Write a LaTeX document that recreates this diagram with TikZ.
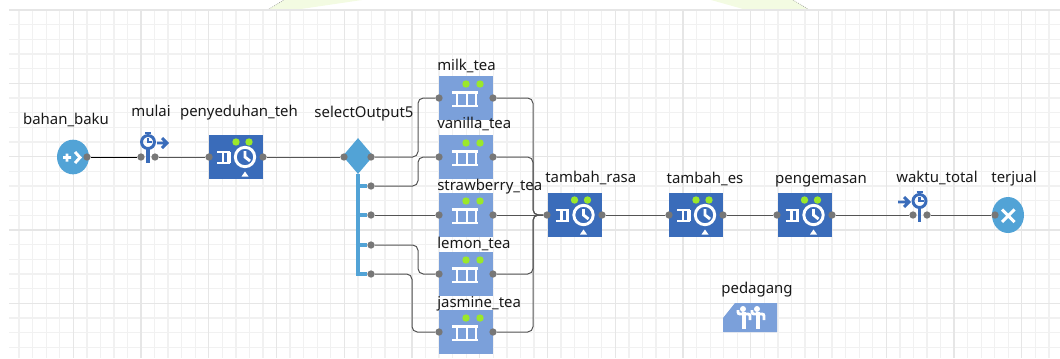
\documentclass[tikz,border=0pt]{standalone}
\usepackage{fontspec}
\usepackage{xcolor}
\usetikzlibrary{shapes.geometric}
\setmainfont{Noto Sans}
\definecolor{delayblue}{HTML}{3A6CBA}
\definecolor{queueblue}{HTML}{7BA0DA}
\definecolor{flowblue}{HTML}{52A3D6}
\definecolor{ledgreen}{HTML}{9BE82A}
\definecolor{portgray}{HTML}{777777}
\definecolor{wiregray}{HTML}{555555}
\definecolor{gridmajor}{HTML}{E6E6E6}
\definecolor{gridminor}{HTML}{F1F1F1}
\definecolor{tintgreen}{HTML}{F3FBE2}
\tikzset{x=0.75pt,y=-0.75pt,
 block/.style={inner sep=0pt,minimum width=40.5pt,minimum height=32.5pt},
 delaybox/.style={block,fill=delayblue},
 queuebox/.style={block,fill=queueblue},
 port/.style={circle,fill=portgray,inner sep=0pt,minimum size=5.5pt},
 name text/.style={inner sep=0pt,text=black!90,text height=8pt,text depth=2.5pt,font=\fontsize{11.2pt}{13pt}\selectfont},
 wire/.style={draw=wiregray,line width=0.75pt,rounded corners=4pt},
 bus/.style={draw=flowblue,line width=2.5pt},
 icon/.style={draw=white,line width=2.2pt},
 timer line/.style={draw=delayblue,line width=2.2pt},
 led/.style={fill=ledgreen,draw=none},
 delayicon/.pic={
 \fill[led] (0,-15) circle (3.7);
 \fill[led] (13,-15) circle (3.7);
 \draw[icon] (-19,-5) -- (-6,-5) (-19,6) -- (-6,6) (-13,-5) -- (-13,6);
 \draw[icon,line width=2.5pt] (-7,-5) -- (-7,6);
 \draw[icon] (9,0) circle (9.7);
 \draw[icon] (9,-6) -- (9,0) -- (14,4);
 \fill[white] (9,14.5) -- (12.5,19.5) -- (5.5,19.5) -- cycle;
 },
 queueicon/.pic={
 \fill[led] (0,-14) circle (3.7);
 \fill[led] (14,-14) circle (3.7);
 \draw[icon] (-14,-5.5) -- (12,-5.5) (-14,8) -- (12,8);
 \draw[icon] (-9,-5.5) -- (-9,8) (1,-5.5) -- (1,8) (10,-5.5) -- (10,8);
 },
 timericon/.pic={
 \draw[timer line] (0,-9) circle (6.5);
 \draw[timer line] (0,-13) -- (0,-9) -- (4,-9);
 \draw[timer line] (-3,-18) -- (3,-18) (0,-18) -- (0,-15);
 \draw[timer line,line width=2.6pt] (0,-2) -- (0,12);
 },
 workericon/.pic={
 \fill[white] (0,-10) circle (3);
 \draw[icon,line width=2.8pt] (1,-7) -- (1,10);
 \draw[icon,rounded corners=1.5pt] (-5,-9) -- (-5,-5) -- (7,-5) -- (7,1);
 },
}

\begin{document}
\begin{tikzpicture}
 \useasboundingbox (0,0) rectangle (1060,358);
 % grid
 \fill[tintgreen] (269,9) -- (284,0) -- (362,0) -- (301,9) -- cycle;
 \fill[tintgreen] (711,0) -- (793,0) -- (808,9) -- (743,9) -- cycle;
 \draw[black!45,densely dotted,line width=0.5pt] (269,9) -- (284,0);
 \draw[black!45,densely dotted,line width=0.5pt] (793,0) -- (808,9);
 \foreach \i in {1,...,78} {
 \draw[gridminor,line width=1pt] ({5.56+13.55*\i},10) -- ({5.56+13.55*\i},358);
 }
 \foreach \j in {0,...,23} {
 \draw[gridminor,line width=1pt] (9,{10+14.67*\j}) -- (1060,{10+14.67*\j});
 }
 \foreach \i in {1,...,15} {
 \draw[gridmajor,line width=1pt] ({5.56+67.74*\i},10) -- ({5.56+67.74*\i},358);
 }
 \foreach \j in {0,...,4} {
 \draw[gridmajor,line width=1pt] (9,{10+73.35*\j}) -- (1060,{10+73.35*\j});
 }

 % blocks
 \node[ellipse,fill=flowblue,inner sep=0pt,minimum width=24pt,minimum height=26pt] (bahanBaku) at (73,157) {};
 \node[delaybox] (penyeduhanTeh) at (236,157) {};
 \node[diamond,fill=flowblue,inner sep=0pt,minimum width=23pt,minimum height=27pt] (selectOutput) at (358,156) {};
 \node[queuebox] (milkTea) at (466,98) {};
 \node[queuebox] (vanillaTea) at (466,157) {};
 \node[queuebox] (strawberryTea) at (466,215) {};
 \node[queuebox] (lemonTea) at (466,274) {};
 \node[queuebox] (jasmineTea) at (466,332) {};
 \node[delaybox] (tambahRasa) at (574.5,215) {};
 \node[delaybox] (tambahEs) at (696,215) {};
 \node[delaybox] (pengemasan) at (804.5,215) {};
 \node[ellipse,fill=flowblue,inner sep=0pt,minimum width=24pt,minimum height=27pt] (terjual) at (1008,215) {};

 % icons
 \pic at (penyeduhanTeh) {delayicon};
 \pic at (tambahRasa) {delayicon};
 \pic at (tambahEs) {delayicon};
 \pic at (pengemasan) {delayicon};
 \pic at (milkTea) {queueicon};
 \pic at (vanillaTea) {queueicon};
 \pic at (strawberryTea) {queueicon};
 \pic at (lemonTea) {queueicon};
 \pic at (jasmineTea) {queueicon};
 \pic at (148,151) {timericon};
 \pic at (919.5,210) {timericon};
 \draw[icon] (63,157.5) -- (71,157.5) (67,153.5) -- (67,161.5) (75,152) -- (80,157.5) -- (75,163);
 \draw[icon] (1002,209.5) -- (1014.5,222) (1014.5,209.5) -- (1002,222);
 \draw[timer line] (157,143) -- (167,143) (162,138) -- (167,143) -- (162,148);
 \draw[timer line] (898,202) -- (909,202) (904,197) -- (909,202) -- (904,207);

 \fill[queueblue] (723,318) -- (735,303) -- (777,303) -- (777,332) -- (723,332) -- cycle;
 \pic at (743,319) {workericon};
 \pic at (757,319) {workericon};

 % ports
 \node[port] (bahanBakuOut) at (87,157) {};
 \node[port] (mulaiIn) at (141,157) {};
 \node[port] (mulaiOut) at (155,157) {};
 \node[port] (penyeduhanIn) at (209,157) {};
 \node[port] (penyeduhanOut) at (263,157) {};
 \node[port] (selectIn) at (344,157) {};
 \node[port] (selectA) at (371,157) {};
 \node[port] (selectB) at (371,186) {};
 \node[port] (selectC) at (371,215) {};
 \node[port] (selectD) at (371,245) {};
 \node[port] (selectE) at (371,274) {};
 \node[port] (milkIn) at (439,98) {};
 \node[port] (milkOut) at (493,98) {};
 \node[port] (vanillaIn) at (439,157) {};
 \node[port] (vanillaOut) at (493,157) {};
 \node[port] (strawberryIn) at (439,215) {};
 \node[port] (strawberryOut) at (493,215) {};
 \node[port] (lemonIn) at (439,274) {};
 \node[port] (lemonOut) at (493,274) {};
 \node[port] (jasmineIn) at (439,332) {};
 \node[port] (jasmineOut) at (493,332) {};
 \node[port] (rasaIn) at (547,215) {};
 \node[port] (rasaOut) at (602,215) {};
 \node[port] (esIn) at (669,215) {};
 \node[port] (esOut) at (723,215) {};
 \node[port] (kemasIn) at (777,215) {};
 \node[port] (kemasOut) at (832,215) {};
 \node[port] (waktuIn) at (913,215) {};
 \node[port] (waktuOut) at (927,215) {};
 \node[port] (terjualIn) at (995,215) {};

 % branch bar
 \coordinate (busTop) at (358,174);
 \coordinate (busEnd) at (358,274);
 \draw[bus] (busTop) -- (busEnd) -- (selectE);
 \draw[bus] (selectB -| busTop) -- (selectB);
 \draw[bus] (selectC -| busTop) -- (selectC);
 \draw[bus] (selectD -| busTop) -- (selectD);

 % connectors
 \coordinate (leftBend) at (418,200);
 \coordinate (farBend) at (412,300);
 \coordinate (mergeBend) at (533,215);
 \draw[wire,draw=black] (bahanBakuOut) -- (mulaiIn);
 \draw[wire] (mulaiOut) -- (penyeduhanIn);
 \draw[wire] (penyeduhanOut) -- (selectIn);
 \draw[wire] (selectA) -- (selectA -| leftBend) -- (milkIn -| leftBend) -- (milkIn);
 \draw[wire] (selectB) -- (selectB -| leftBend) -- (vanillaIn -| leftBend) -- (vanillaIn);
 \draw[wire] (selectC) -- (strawberryIn);
 \draw[wire] (selectD) -- (selectD -| leftBend) -- (lemonIn -| leftBend) -- (lemonIn);
 \draw[wire] (selectE) -- (selectE -| farBend) -- (jasmineIn -| farBend) -- (jasmineIn);
 \draw[wire] (milkOut) -- (milkOut -| mergeBend) -- (mergeBend) -- (rasaIn);
 \draw[wire] (vanillaOut) -- (vanillaOut -| mergeBend) -- (mergeBend) -- (rasaIn);
 \draw[wire] (strawberryOut) -- (rasaIn);
 \draw[wire] (lemonOut) -- (lemonOut -| mergeBend) -- (mergeBend) -- (rasaIn);
 \draw[wire] (jasmineOut) -- (jasmineOut -| mergeBend) -- (mergeBend) -- (rasaIn);
 \draw[wire] (rasaOut) -- (esIn);
 \draw[wire] (esOut) -- (kemasIn);
 \draw[wire] (kemasOut) -- (waktuIn);
 \draw[wire] (waktuOut) -- (terjualIn);

 % labels
 \node[name text] (bahanBakuText) at (66,120.5) {bahan\_baku};
 \node[name text] (mulaiText) at (151,113) {mulai};
 \node[name text] (penyeduhanText) at (239,113) {penyeduhan\_teh};
 \node[name text] (selectText) at (364,113.5) {selectOutput5};
 \node[name text,anchor=west] (milkText) at (437,67) {milk\_tea};
 \node[name text,anchor=west] (vanillaText) at (437,124.5) {vanilla\_tea};
 \node[name text,anchor=west] (strawberryText) at (437,186.5) {strawberry\_tea};
 \node[name text,anchor=west] (lemonText) at (437,244.7) {lemon\_tea};
 \node[name text,anchor=west] (jasmineText) at (437,303.5) {jasmine\_tea};
 \node[name text,anchor=west] (rasaText) at (545,178.5) {tambah\_rasa};
 \node[name text] (esText) at (705,179.5) {tambah\_es};
 \node[name text] (kemasText) at (821,179.5) {pengemasan};
 \node[name text] (waktuText) at (937,179) {waktu\_total};
 \node[name text] (terjualText) at (1014,179) {terjual};
 \node[name text] (pedagangText) at (757,289.5) {pedagang};
\end{tikzpicture}
\end{document}
